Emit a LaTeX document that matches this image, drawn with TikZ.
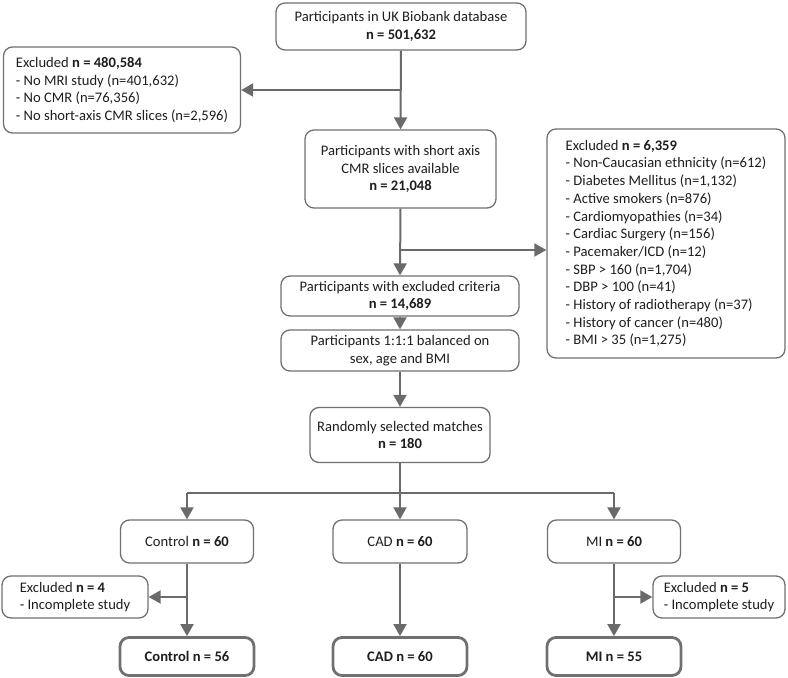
\documentclass[tikz,border=0pt]{standalone}
\usepackage{fontspec}
\setmainfont{Carlito}
\usetikzlibrary{arrows.meta}
\definecolor{lc}{HTML}{6A6A6A}
\definecolor{bc}{HTML}{707070}
\definecolor{tc}{HTML}{1E1E1E}
\tikzset{
  x=1pt,y=-1pt,
  box/.style={draw=bc,line width=1.3pt,rounded corners=9pt,text=tc,align=center,inner sep=0pt,
    font=\fontsize{14.6}{17.7}\selectfont},
  lbox/.style={box,align=left},
  fbox/.style={box,line width=2.8pt},
  arr/.style={draw=lc,line width=2pt,-{Triangle[length=12pt,width=13pt]}},
  ln/.style={draw=lc,line width=2pt}
}
\begin{document}
\begin{tikzpicture}
\useasboundingbox (0,0) rectangle (788,678);
\node[box,minimum width=250pt,minimum height=47pt] (top) at (401,26.5)
  {Participants in UK Biobank database\\\textbf{n = 501,632}};
\node[lbox,minimum width=237pt,minimum height=86pt] (exL) at (122,90)
  {Excluded \textbf{n = 480,584}\\- No MRI study (n=401,632)\\- No CMR (n=76,356)\\- No short-axis CMR slices (n=2,596)};
\node[box,minimum width=191pt,minimum height=78pt] (b2) at (400.5,169)
  {Participants with short axis\\CMR slices available\\\textbf{n = 21,048}};
\node[lbox,minimum width=238pt,minimum height=229pt] (exR) at (666,243.5)
  {Excluded \textbf{n = 6,359}\\- Non-Caucasian ethnicity (n=612)\\- Diabetes Mellitus (n=1,132)\\- Active smokers (n=876)\\- Cardiomyopathies (n=34)\\- Cardiac Surgery (n=156)\\- Pacemaker/ICD (n=12)\\- SBP > 160 (n=1,704)\\- DBP > 100 (n=41)\\- History of radiotherapy (n=37)\\- History of cancer (n=480)\\- BMI > 35 (n=1,275)};
\node[box,minimum width=238pt,minimum height=40pt] (b3) at (400,296)
  {Participants with excluded criteria\\\textbf{n = 14,689}};
\node[box,minimum width=238pt,minimum height=41pt] (b4) at (400,350.5)
  {Participants 1:1:1 balanced on\\sex, age and BMI};
\node[box,minimum width=180pt,minimum height=55pt] (b5) at (400,435)
  {Randomly selected matches\\\textbf{n = 180}};
\node[box,minimum width=133pt,minimum height=43pt] (ctrl) at (187,541.5) {Control \textbf{n = 60}};
\node[box,minimum width=134pt,minimum height=43pt] (cad) at (400,541.5) {CAD \textbf{n = 60}};
\node[box,minimum width=133pt,minimum height=43pt] (mi) at (614,541.5) {MI \textbf{n = 60}};
\node[lbox,minimum width=146pt,minimum height=42pt] (exC) at (75,597)
  {Excluded \textbf{n = 4}\\- Incomplete study};
\node[lbox,minimum width=132pt,minimum height=42pt] (exM) at (719,597)
  {Excluded \textbf{n = 5}\\- Incomplete study};
\node[fbox,minimum width=134pt,minimum height=38pt] (fC) at (187,656.5) {\textbf{Control n = 56}};
\node[fbox,minimum width=134pt,minimum height=38pt] (fCAD) at (400,656.5) {\textbf{CAD n = 60}};
\node[fbox,minimum width=134pt,minimum height=38pt] (fMI) at (614,656.5) {\textbf{MI n = 55}};
\coordinate (j1) at (400,90);
\coordinate (j2) at (400,250);
\coordinate (j3) at (400,493);
\coordinate (j3l) at (187,493);
\coordinate (j3r) at (614,493);
\coordinate (j4) at (187,597);
\coordinate (j5) at (614,597);
\draw[arr] (top.south) -- (b2.north);
\draw[arr] (j1) -- (exL.east |- j1);
\draw[arr] (b2.south) -- (b3.north);
\draw[arr] (j2) -- (exR.west |- j2);
\draw[arr] (b3.south) -- (b4.north);
\draw[arr] (b4.south) -- (b5.north);
\draw[ln] (b5.south) -- (j3);
\draw[ln] (j3l) -- (j3r);
\draw[arr] (j3l) -- (ctrl.north);
\draw[arr] (j3) -- (cad.north);
\draw[arr] (j3r) -- (mi.north);
\draw[arr] (ctrl.south) -- (fC.north);
\draw[arr] (j4) -- (exC.east |- j4);
\draw[arr] (cad.south) -- (fCAD.north);
\draw[arr] (mi.south) -- (fMI.north);
\draw[arr] (j5) -- (exM.west |- j5);
\end{tikzpicture}
\end{document}
